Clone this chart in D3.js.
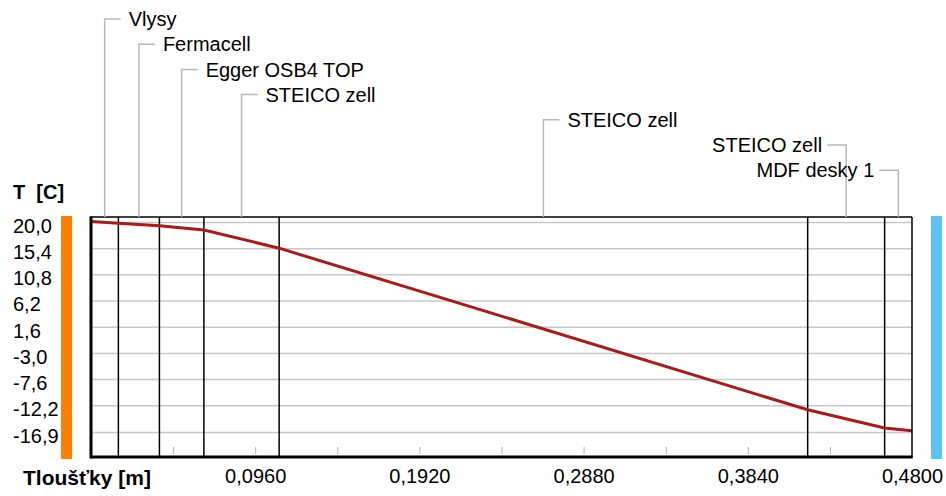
<!DOCTYPE html>
<html>
<head>
<meta charset="utf-8">
<script src="https://cdn.jsdelivr.net/npm/d3@7"></script>
<style>
  body { margin: 0; background: #fff; }
  svg { display: block; font-family: "Liberation Sans", Arial, sans-serif; }
</style>
</head>
<body>
<script>
// layers of the wall (inside -> outside)
const layerNames = ["Vlysy", "Fermacell", "Egger OSB4 TOP", "STEICO zell", "STEICO zell", "STEICO zell", "MDF desky 1"];
const layerBounds = [0, 0.016, 0.040, 0.066, 0.110, 0.419, 0.464, 0.480];
// temperature at each boundary [C]
const tempAtBounds = [20.1, 19.8, 19.35, 18.6, 15.4, -13.0, -16.2, -16.7];

const yTickValues = [20.0, 15.4, 10.8, 6.2, 1.6, -3.0, -7.6, -12.2, -16.9];
const yTickLabels = ["20,0", "15,4", "10,8", "6,2", "1,6", "-3,0", "-7,6", "-12,2", "-16,9"];
const xTickValues = [0.096, 0.192, 0.288, 0.384, 0.480];
const xTickLabels = ["0,0960", "0,1920", "0,2880", "0,3840", "0,4800"];
const xMinorTicks = [0.048, 0.096, 0.144, 0.192, 0.240, 0.288, 0.336, 0.384, 0.432];

(function() {
    const W = 946, H = 496;
    const pLeft = 91, pRight = 912, pTop = 217, pBottom = 457;

    const svg = d3.select("body").append("svg")
        .attr("width", W)
        .attr("height", H);

    const x = d3.scaleLinear().domain([0, 0.48]).range([pLeft, pRight]);
    const y = d3.scaleLinear().domain([-16.9, 20]).range([432, 222]);

    // side bars (inner / outer)
    svg.append("rect").attr("x", 61).attr("y", 216).attr("width", 11).attr("height", 243).attr("fill", "#ff8000");
    svg.append("rect").attr("x", 931).attr("y", 216).attr("width", 11).attr("height", 243).attr("fill", "#5bc2f5");

    // horizontal grid
    svg.append("g")
        .attr("transform", `translate(${pLeft},0)`)
        .call(d3.axisRight(y).tickValues(yTickValues).tickSize(pRight - pLeft).tickFormat(""))
        .call(g => g.select(".domain").remove())
        .selectAll("line")
        .attr("stroke", "#c8c8c8")
        .attr("stroke-width", 1.5);

    // minor ticks on bottom
    svg.append("g")
        .attr("transform", `translate(0,${pBottom - 3})`)
        .call(d3.axisTop(x).tickValues(xMinorTicks).tickSize(7).tickFormat(""))
        .call(g => g.select(".domain").remove())
        .selectAll("line")
        .attr("stroke", "#b0b0b0")
        .attr("stroke-width", 1);

    // layer boundaries
    svg.append("g").selectAll("line")
        .data(layerBounds.slice(1, -1))
        .join("line")
        .attr("x1", d => x(d)).attr("x2", d => x(d))
        .attr("y1", pTop).attr("y2", pBottom)
        .attr("stroke", "#000")
        .attr("stroke-width", 1.5);

    // temperature line
    const pts = layerBounds.map((d, i) => [d, tempAtBounds[i]]);
    svg.append("path")
        .datum(pts)
        .attr("fill", "none")
        .attr("stroke", "#aa1a1a")
        .attr("stroke-width", 3)
        .attr("d", d3.line().x(d => x(d[0])).y(d => y(d[1])));

    // frame
    svg.append("line").attr("x1", pLeft).attr("x2", pRight).attr("y1", pTop).attr("y2", pTop).attr("stroke", "#000").attr("stroke-width", 1.5);
    svg.append("line").attr("x1", pRight).attr("x2", pRight).attr("y1", pTop).attr("y2", pBottom).attr("stroke", "#000").attr("stroke-width", 1.5);
    svg.append("line").attr("x1", pLeft).attr("x2", pLeft).attr("y1", pTop - 0.75).attr("y2", pBottom + 1.5).attr("stroke", "#000").attr("stroke-width", 3);
    svg.append("line").attr("x1", pLeft).attr("x2", pRight + 0.75).attr("y1", pBottom).attr("y2", pBottom).attr("stroke", "#000").attr("stroke-width", 3);

    // y tick labels, left aligned
    svg.append("g")
        .attr("transform", "translate(13,4)")
        .call(d3.axisLeft(y).tickValues(yTickValues).tickSize(0).tickPadding(0)
            .tickFormat((d, i) => yTickLabels[i]))
        .call(g => g.select(".domain").remove())
        .selectAll("text")
        .attr("text-anchor", "start")
        .attr("x", 0)
        .attr("font-family", "Liberation Sans, Arial, sans-serif")
        .attr("font-size", 20)
        .attr("fill", "#000");

    // x tick labels
    svg.append("g")
        .attr("transform", `translate(0,${pBottom})`)
        .call(d3.axisBottom(x).tickValues(xTickValues).tickSize(0).tickPadding(12)
            .tickFormat((d, i) => xTickLabels[i]))
        .call(g => g.select(".domain").remove())
        .selectAll("text")
        .attr("font-family", "Liberation Sans, Arial, sans-serif")
        .attr("font-size", 20)
        .attr("fill", "#000");

    // axis titles
    svg.append("text")
        .attr("x", 13).attr("y", 199)
        .attr("font-size", 20).attr("font-weight", "bold")
        .attr("xml:space", "preserve")
        .text("T  [C]");
    svg.append("text")
        .attr("x", 23).attr("y", 485)
        .attr("font-size", 21).attr("font-weight", "bold")
        .text("Tloušťky [m]");

    // layer labels with leader lines
    const labelData = layerNames.map((name, i) => {
        const xm = (x(layerBounds[i]) + x(layerBounds[i + 1])) / 2;
        return { name, xm, ry: 19 + i * 25.2, onLeft: xm > 800 };
    });
    const lab = svg.append("g").selectAll("g")
        .data(labelData)
        .join("g");
    lab.append("path")
        .attr("fill", "none")
        .attr("stroke", "#b8b8b8")
        .attr("stroke-width", 1.5)
        .attr("d", d => d.onLeft
            ? `M${d.xm - 19},${d.ry}H${d.xm}V${pTop}`
            : `M${d.xm + 16},${d.ry}H${d.xm}V${pTop}`);
    lab.append("text")
        .attr("x", d => d.onLeft ? d.xm - 24 : d.xm + 24)
        .attr("y", d => d.ry)
        .attr("dy", "0.36em")
        .attr("text-anchor", d => d.onLeft ? "end" : "start")
        .attr("font-size", 20)
        .text(d => d.name);
})();
</script>
</body>
</html>
